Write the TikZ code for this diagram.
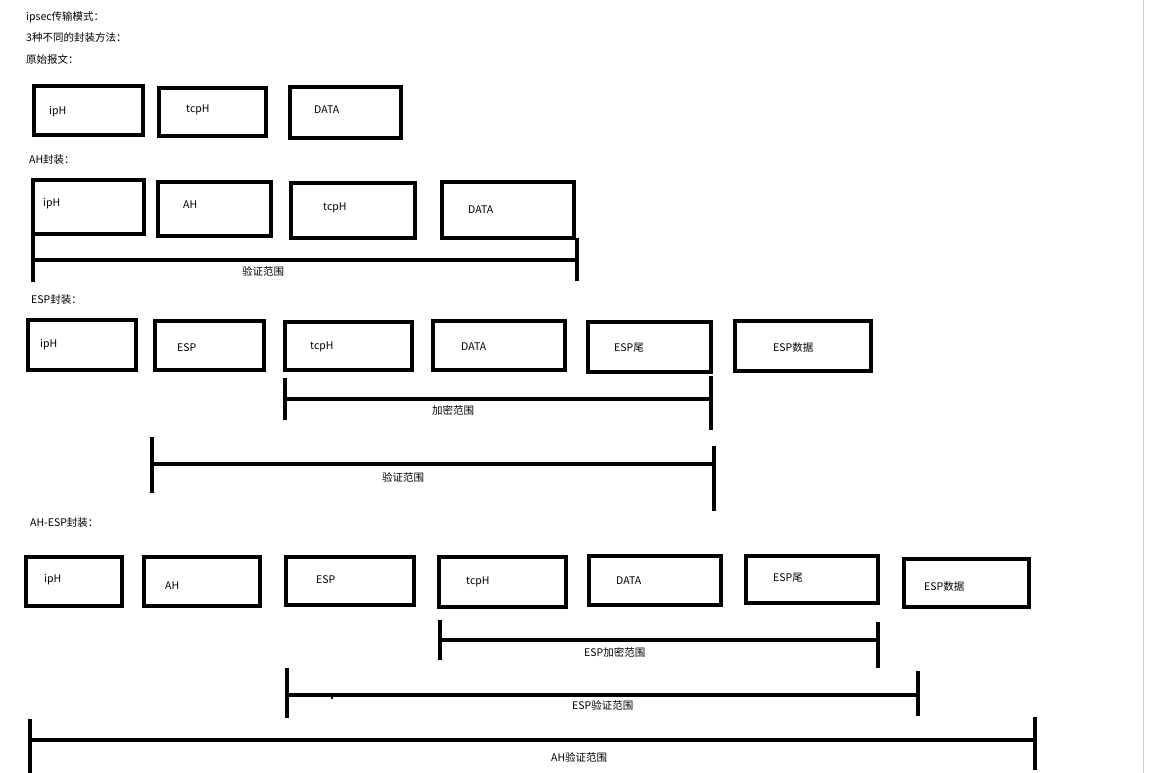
\documentclass[tikz,border=0pt]{standalone}
\usepackage{fontspec}
\setmainfont{Noto Sans CJK SC}
\begin{document}
\begin{tikzpicture}[x=1pt,y=-1pt,
  bx/.style={draw=black,line width=3.5pt},
  br/.style={draw=black,line width=3.5pt},
  t/.style={anchor=west,inner sep=0pt,font=\fontsize{10.5pt}{12pt}\selectfont}]
\useasboundingbox (0,0) rectangle (1154,773);
\fill[white] (0,0) rectangle (1154,773);
\draw[gray!40,line width=1pt] (1143,0) -- (1143,773);
\newcommand\bxx[4]{\draw[bx] (#1,#2) rectangle (#3,#4);}
% headings
\node[t] (h1) at (26,17) {ipsec传输模式：};
\node[t] (h2) at (26,38) {3种不同的封装方法：};
\node[t] (h3) at (26,59) {原始报文：};
\node[t] (h4) at (29,160) {AH封装：};
\node[t] (h5) at (31,300) {ESP封装：};
\node[t] (h6) at (30,523) {AH-ESP封装：};
% row1
\bxx{34}{86}{143}{135}\bxx{159}{88}{266}{136}\bxx{290}{87}{401}{138}
\node[t] (a1) at (49,112) {ipH};
\node[t] (a2) at (186,110) {tcpH};
\node[t] (a3) at (314,110) {DATA};
% row2
\bxx{33}{180}{144}{234}\bxx{158}{182}{271}{236}\bxx{291}{183}{415}{238}\bxx{442}{182}{574}{238}
\node[t] (b1) at (43,204) {ipH};
\node[t] (b2) at (183,205) {AH};
\node[t] (b3) at (323,208) {tcpH};
\node[t] (b4) at (468,210) {DATA};
\draw[br] (33,236) -- (33,282);
\draw[br] (577,238) -- (577,281);
\draw[br] (33,260) -- (577,260);
\node[t] (bl) at (242,271) {验证范围};
% row3
\bxx{28}{320}{136}{370}\bxx{155}{321}{264}{370}\bxx{285}{322}{412}{370}\bxx{433}{321}{565}{370}\bxx{588}{322}{711}{372}\bxx{735}{321}{871}{371}
\node[t] (c1) at (40,345) {ipH};
\node[t] (c2) at (177,348) {ESP};
\node[t] (c3) at (310,347) {tcpH};
\node[t] (c4) at (461,347) {DATA};
\node[t] (c5) at (614,348) {ESP尾};
\node[t] (c6) at (773,348) {ESP数据};
\draw[br] (285,378) -- (285,420);
\draw[br] (711,376) -- (711,430);
\draw[br] (285,399) -- (711,399);
\node[t] (cl1) at (432,410) {加密范围};
\draw[br] (152,437) -- (152,493);
\draw[br] (714,446) -- (714,511);
\draw[br] (152,464) -- (714,464);
\node[t] (cl2) at (382,477) {验证范围};
% row4
\bxx{26}{557}{122}{606}\bxx{144}{557}{260}{606}\bxx{286}{557}{414}{605}\bxx{439}{557}{566}{607}\bxx{589}{556}{721}{605}\bxx{746}{556}{878}{603}\bxx{904}{559}{1029}{607}
\node[t] (d1) at (44,580) {ipH};
\node[t] (d2) at (165,586) {AH};
\node[t] (d3) at (316,580) {ESP};
\node[t] (d4) at (466,582) {tcpH};
\node[t] (d5) at (616,581) {DATA};
\node[t] (d6) at (773,578) {ESP尾};
\node[t] (d7) at (924,587) {ESP数据};
\draw[br] (440,620) -- (440,660);
\draw[br] (878,622) -- (878,668);
\draw[br] (440,640) -- (878,640);
\node[t] (dl1) at (584,652) {ESP加密范围};
\draw[br] (287,668) -- (287,718);
\draw[br] (918,671) -- (918,716);
\draw[br] (287,695) -- (918,695);
\fill (332,698) circle (1.3pt);
\node[t] (dl2) at (572,705) {ESP验证范围};
\draw[br] (30,719) -- (30,773);
\draw[br] (1035,717) -- (1035,770);
\draw[br] (30,740) -- (1035,740);
\node[t] (dl3) at (551,757) {AH验证范围};
\end{tikzpicture}
\end{document}
